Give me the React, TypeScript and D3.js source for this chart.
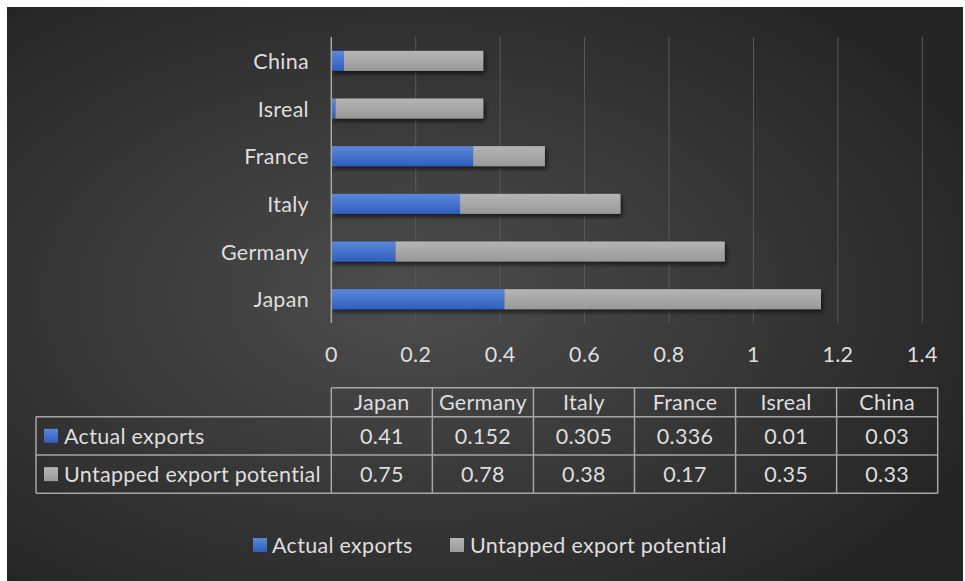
import React from "react";
import * as d3 from "d3";

const categories = ["Japan", "Germany", "Italy", "France", "Isreal", "China"];
const actualExports = [0.41, 0.152, 0.305, 0.336, 0.01, 0.03];
const untapped = [0.75, 0.78, 0.38, 0.17, 0.35, 0.33];
const seriesNames = ["Actual exports", "Untapped export potential"];
const xTicks = [0, 0.2, 0.4, 0.6, 0.8, 1, 1.2, 1.4];

const W = 965;
const H = 581;
const FONT = "Lato, 'Open Sans', sans-serif";
const TXT = "#dedede";
const FS = 21.5;
const LS = 0.3;

export default function App() {
  const x = d3.scaleLinear().domain([0, 1.4]).range([331.3, 922.3]);
  const y = d3
    .scaleBand<string>()
    .domain([...categories].reverse())
    .range([37, 323])
    .paddingInner(0.58)
    .paddingOuter(0.29);
  const bh = y.bandwidth();
  const stack = d3.stack<any>().keys(["a", "u"])(
    categories.map((c, i) => ({ c, a: actualExports[i], u: untapped[i] }))
  );
  const tableX = d3.scaleBand<string>().domain(categories).range([331.3, 937.7]);
  const rowY = [387.7, 416.7, 455, 493.3];
  const fills = ["url(#blueG)", "url(#grayG)"];
  const seriesVals = [actualExports, untapped];
  const txt = { fill: TXT, fontSize: FS, fontFamily: FONT, letterSpacing: LS } as const;

  return (
    <svg width={W} height={H} style={{ position: "absolute", left: 0, top: 0 }}>
      <defs>
        <radialGradient id="bg" cx="0.42" cy="0.5" r="0.65">
          <stop offset="0" stopColor="#4d4d4d" />
          <stop offset="1" stopColor="#252525" />
        </radialGradient>
        <linearGradient id="blueG" x1="0" y1="0" x2="0" y2="1">
          <stop offset="0" stopColor="#5b87d8" />
          <stop offset="1" stopColor="#2f5fbf" />
        </linearGradient>
        <linearGradient id="grayG" x1="0" y1="0" x2="0" y2="1">
          <stop offset="0" stopColor="#b5b5b5" />
          <stop offset="1" stopColor="#999999" />
        </linearGradient>
        <filter id="shadow" x="-5%" y="-30%" width="110%" height="190%">
          <feDropShadow dx="2" dy="3" stdDeviation="2" floodColor="#000" floodOpacity="0.6" />
        </filter>
      </defs>
      <rect x={0} y={0} width={W} height={H} fill="#ffffff" />
      <rect x={7} y={7} width={956} height={580} fill="url(#bg)" />

      {/* gridlines */}
      {xTicks.slice(1).map((t) => (
        <line key={t} x1={x(t)} x2={x(t)} y1={37} y2={323} stroke="#5a5a5a" strokeWidth={1} />
      ))}

      {/* bars */}
      <g filter="url(#shadow)">
        {stack.map((s, si) =>
          s.map((d: any, i: number) => (
            <rect
              key={si + "-" + i}
              x={x(d[0])}
              y={y(categories[i])}
              width={x(d[1]) - x(d[0])}
              height={bh}
              fill={fills[si]}
            />
          ))
        )}
      </g>

      {/* axis line */}
      <line x1={331.3} x2={331.3} y1={37} y2={323} stroke="#a6a6a6" strokeWidth={1.5} />

      {/* category labels */}
      {categories.map((c) => (
        <text
          key={c}
          x={309}
          y={(y(c) as number) + bh / 2}
          textAnchor="end"
          dominantBaseline="central"
          {...txt}
        >
          {c}
        </text>
      ))}

      {/* x tick labels */}
      {xTicks.map((t) => (
        <text
          key={t}
          x={x(t)}
          y={354}
          textAnchor="middle"
          dominantBaseline="central"
          {...txt}
        >
          {String(t)}
        </text>
      ))}

      {/* data table */}
      <g stroke="#a6a6a6" strokeWidth={1.5} fill="none">
        <line x1={331.3} x2={937.7} y1={rowY[0]} y2={rowY[0]} />
        <line x1={36} x2={937.7} y1={rowY[1]} y2={rowY[1]} />
        <line x1={36} x2={937.7} y1={rowY[2]} y2={rowY[2]} />
        <line x1={36} x2={937.7} y1={rowY[3]} y2={rowY[3]} />
        <line x1={36} x2={36} y1={rowY[1]} y2={rowY[3]} />
        {categories.map((c) => (
          <line key={c} x1={tableX(c)} x2={tableX(c)} y1={rowY[0]} y2={rowY[3]} />
        ))}
        <line x1={937.7} x2={937.7} y1={rowY[0]} y2={rowY[3]} />
      </g>
      {categories.map((c) => (
        <text
          key={"h" + c}
          x={(tableX(c) as number) + tableX.bandwidth() / 2}
          y={(rowY[0] + rowY[1]) / 2}
          textAnchor="middle"
          dominantBaseline="central"
          {...txt}
        >
          {c}
        </text>
      ))}
      {seriesNames.map((name, si) => (
        <g key={name}>
          <rect x={44} y={(rowY[si + 1] + rowY[si + 2]) / 2 - 7} width={14} height={14} fill={fills[si]} />
          <text x={64} y={(rowY[si + 1] + rowY[si + 2]) / 2} dominantBaseline="central" {...txt}>
            {name}
          </text>
          {categories.map((c, i) => (
            <text
              key={c}
              x={(tableX(c) as number) + tableX.bandwidth() / 2}
              y={(rowY[si + 1] + rowY[si + 2]) / 2}
              textAnchor="middle"
              dominantBaseline="central"
              {...txt}
            >
              {String(seriesVals[si][i])}
            </text>
          ))}
        </g>
      ))}

      {/* legend */}
      <rect x={253} y={538} width={14} height={14} fill={fills[0]} />
      <text x={272} y={545} dominantBaseline="central" {...txt}>
        {seriesNames[0]}
      </text>
      <rect x={450} y={538} width={14} height={14} fill={fills[1]} />
      <text x={470} y={545} dominantBaseline="central" {...txt}>
        {seriesNames[1]}
      </text>
    </svg>
  );
}
